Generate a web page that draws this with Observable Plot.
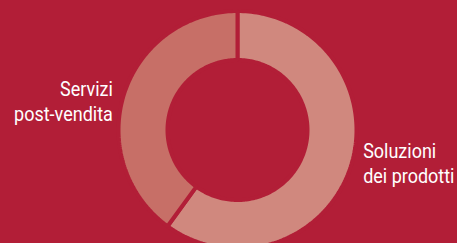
<!DOCTYPE html>
<html><head><meta charset="utf-8">
<script src="https://cdn.jsdelivr.net/npm/d3@7"></script>
<script src="https://cdn.jsdelivr.net/npm/@observablehq/plot@0.6"></script>
<style>
html,body{margin:0;padding:0;background:#B21E37;overflow:hidden;}
</style></head><body><div id="chart"></div>
<script>
const categories = ["Soluzioni dei prodotti", "Servizi post-vendita"];
const labels = ["Soluzioni\ndei prodotti", "Servizi\npost-vendita"];
const values = [60, 40];
const colors = ["#D0887E", "#C76F67"];
const bg = "#B21E37";

const W = 457, H = 243, cx = 237, cy = 129.5, R = 117, r = 72, gap = 4;
const pie = d3.pie().sort(null).value(d => d.value)(categories.map((c, i) => ({category: c, label: labels[i], value: values[i]})));
const ring = [];
pie.forEach(p => {
  const n = 160;
  for (let k = 0; k <= n; k++) {
    const a = p.startAngle + (p.endAngle - p.startAngle) * k / n;
    ring.push({category: p.data.category, x: cx + (R + gap/2) * Math.sin(a), y: cy - (R + gap/2) * Math.cos(a)});
  }
  for (let k = n; k >= 0; k--) {
    const a = p.startAngle + (p.endAngle - p.startAngle) * k / n;
    ring.push({category: p.data.category, x: cx + (r - gap/2) * Math.sin(a), y: cy - (r - gap/2) * Math.cos(a)});
  }
});
const lr = 130;
const labelData = pie.map(p => {
  const a = (p.startAngle + p.endAngle) / 2;
  return {category: p.data.category, label: p.data.label, x: cx + lr * Math.sin(a), y: cy - lr * Math.cos(a), side: Math.sin(a) >= 0 ? "right" : "left"};
});
const font = "Roboto, sans-serif";
const chart = Plot.plot({
  width: W, height: H, margin: 0,
  x: {domain: [0, W], range: [0, W], axis: null},
  y: {domain: [0, H], range: [0, H], axis: null},
  color: {domain: categories, range: colors},
  style: {background: bg, fontFamily: font},
  marks: [
    Plot.line(ring, {x: "x", y: "y", z: "category", fill: "category", stroke: bg, strokeWidth: gap, curve: "linear-closed", strokeLinejoin: "miter"}),
    Plot.text(labelData.filter(d => d.side === "left"), {x: "x", y: "y", text: "label", textAnchor: "end", dx: -1, dy: 11, fill: "white", fontSize: 20, lineHeight: 1.25, fontFamily: font}),
    Plot.text(labelData.filter(d => d.side === "right"), {x: "x", y: "y", text: "label", textAnchor: "start", dx: 2, dy: -8, fill: "white", fontSize: 20, lineHeight: 1.25, fontFamily: font})
  ]
});
// condense the label type horizontally (the reference uses a condensed face)
chart.querySelectorAll("g[aria-label='text'] text").forEach(t => {
  const tr = t.getAttribute("transform") || "";
  t.setAttribute("transform", tr + " scale(0.9,1)");
});
document.getElementById("chart").appendChild(chart);
</script></body></html>
